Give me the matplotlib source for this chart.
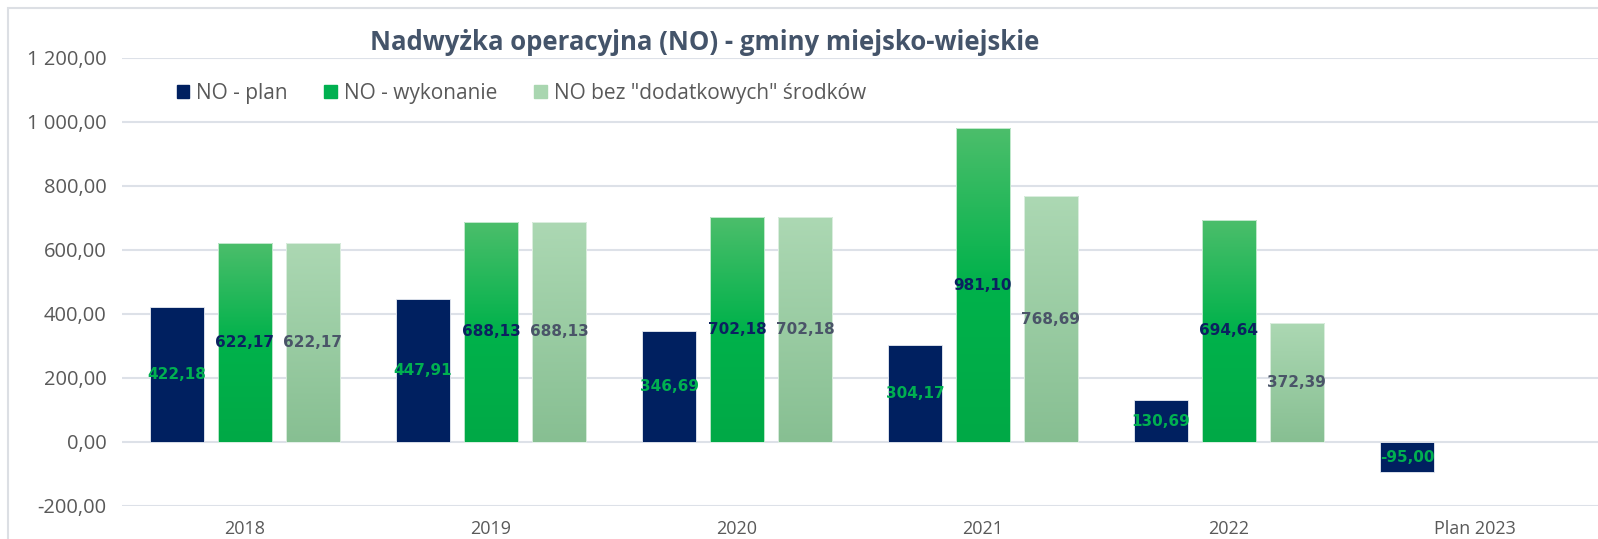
import numpy as np
import matplotlib.pyplot as plt
from matplotlib.colors import LinearSegmentedColormap
from matplotlib.patches import Patch, Rectangle

years = ['2018', '2019', '2020', '2021', '2022', 'Plan 2023']
no_plan = [422.18, 447.91, 346.69, 304.17, 130.69, -95.00]
no_wykonanie = [622.17, 688.13, 702.18, 981.10, 694.64, np.nan]
no_bez = [622.17, 688.13, 702.18, 768.69, 372.39, np.nan]
labels = ['NO - plan', 'NO - wykonanie', 'NO bez "dodatkowych" środków']

NAVY = '#002060'
TXT = '#595959'
TITLE = '#44546A'

green_cm = LinearSegmentedColormap.from_list('g', [(0, '#4CBE6B'), (0.5, '#00B24B'), (1, '#00A946')])
light_cm = LinearSegmentedColormap.from_list('l', [(0, '#ACD8B3'), (1, '#87BF92')])

def fmt(v):
	return f'{v:,.2f}'.replace(',', ' ').replace('.', ',')

def grad_bars(ax, bars, cmap):
	grad = np.linspace(0, 1, 256).reshape(-1, 1)
	for b in bars:
		if np.isnan(b.get_height()):
			continue
		x0, y0 = b.get_x(), b.get_y()
		x1, y1 = x0 + b.get_width(), y0 + b.get_height()
		im = ax.imshow(grad, cmap=cmap, aspect='auto', origin='upper', zorder=2,
			interpolation='bicubic', extent=[x0, x1, min(y0, y1), max(y0, y1)])
		im.set_clip_path(b)

fig = plt.figure(figsize=(15.98, 5.39), dpi=100)
fig.patches.append(Rectangle((8/1598, -0.1), 1.2, 1 - 8/539 + 0.1, transform=fig.transFigure,
	fill=False, edgecolor='#DCDFE4', lw=1.5))

ax = fig.add_axes([122/1598, 1 - 506/539, 1476/1598, 448/539])
x = np.arange(len(years))
w = 0.22
off = 0.276

b1 = ax.bar(x - off, no_plan, w, color=NAVY, edgecolor='#E8ECF3', lw=0.6, zorder=2)
b2 = ax.bar(x, no_wykonanie, w, color='none', edgecolor='#D8F0DE', lw=0.6, zorder=3)
b3 = ax.bar(x + off, no_bez, w, color='none', edgecolor='#E4F2E7', lw=0.6, zorder=3)
grad_bars(ax, b2, green_cm)
grad_bars(ax, b3, light_cm)

lab_font = dict(family='DejaVu Sans', fontweight='bold', fontsize=11, ha='center', va='center', zorder=5)
for xi, v in zip(x, no_plan):
	ax.text(xi - off, v / 2, fmt(v), color='#00B050', **lab_font)
for xi, v in zip(x, no_wykonanie):
	if not np.isnan(v):
		ax.text(xi, v / 2, fmt(v), color='#0B2160', **lab_font)
for xi, v in zip(x, no_bez):
	if not np.isnan(v):
		ax.text(xi + off, v / 2, fmt(v), color='#4A5468', **lab_font)

ax.set_xlim(-0.5, len(years) - 0.5)
ax.set_ylim(-200, 1200)
ax.set_yticks(np.arange(-200, 1201, 200))
ax.set_yticklabels([fmt(t) for t in np.arange(-200, 1201, 200)])
ax.set_xticks(x)
ax.set_xticklabels(years)
ax.tick_params(length=0, labelcolor=TXT)
ax.tick_params(axis='y', pad=11, labelsize=14.5)
ax.tick_params(axis='x', pad=10, labelsize=13)
for t in ax.get_xticklabels() + ax.get_yticklabels():
	t.set_family('Open Sans')
for s in ax.spines.values():
	s.set_visible(False)
ax.grid(axis='y', color='#DDE1E8', lw=1.5, zorder=0)
ax.set_axisbelow(True)

fig.text(705/1598, 1 - 43/539, 'Nadwyżka operacyjna (NO) - gminy miejsko-wiejskie', ha='center', va='center',
	fontsize=18.5, fontweight='bold', color=TITLE, family='Open Sans')

handles = [Patch(color=NAVY), Patch(color='#00B050'), Patch(color='#A9D6B0')]
leg = fig.legend(handles, labels, ncol=3, loc='center left', bbox_to_anchor=(162/1598, 1 - 93/539),
	frameon=False, handlelength=0.6, handleheight=0.6, handletextpad=0.35, columnspacing=1.75,
	borderpad=0.2, prop={'family': 'Open Sans', 'size': 15})
for t in leg.get_texts():
	t.set_color(TXT)

fig.savefig('out.png', dpi=100)
